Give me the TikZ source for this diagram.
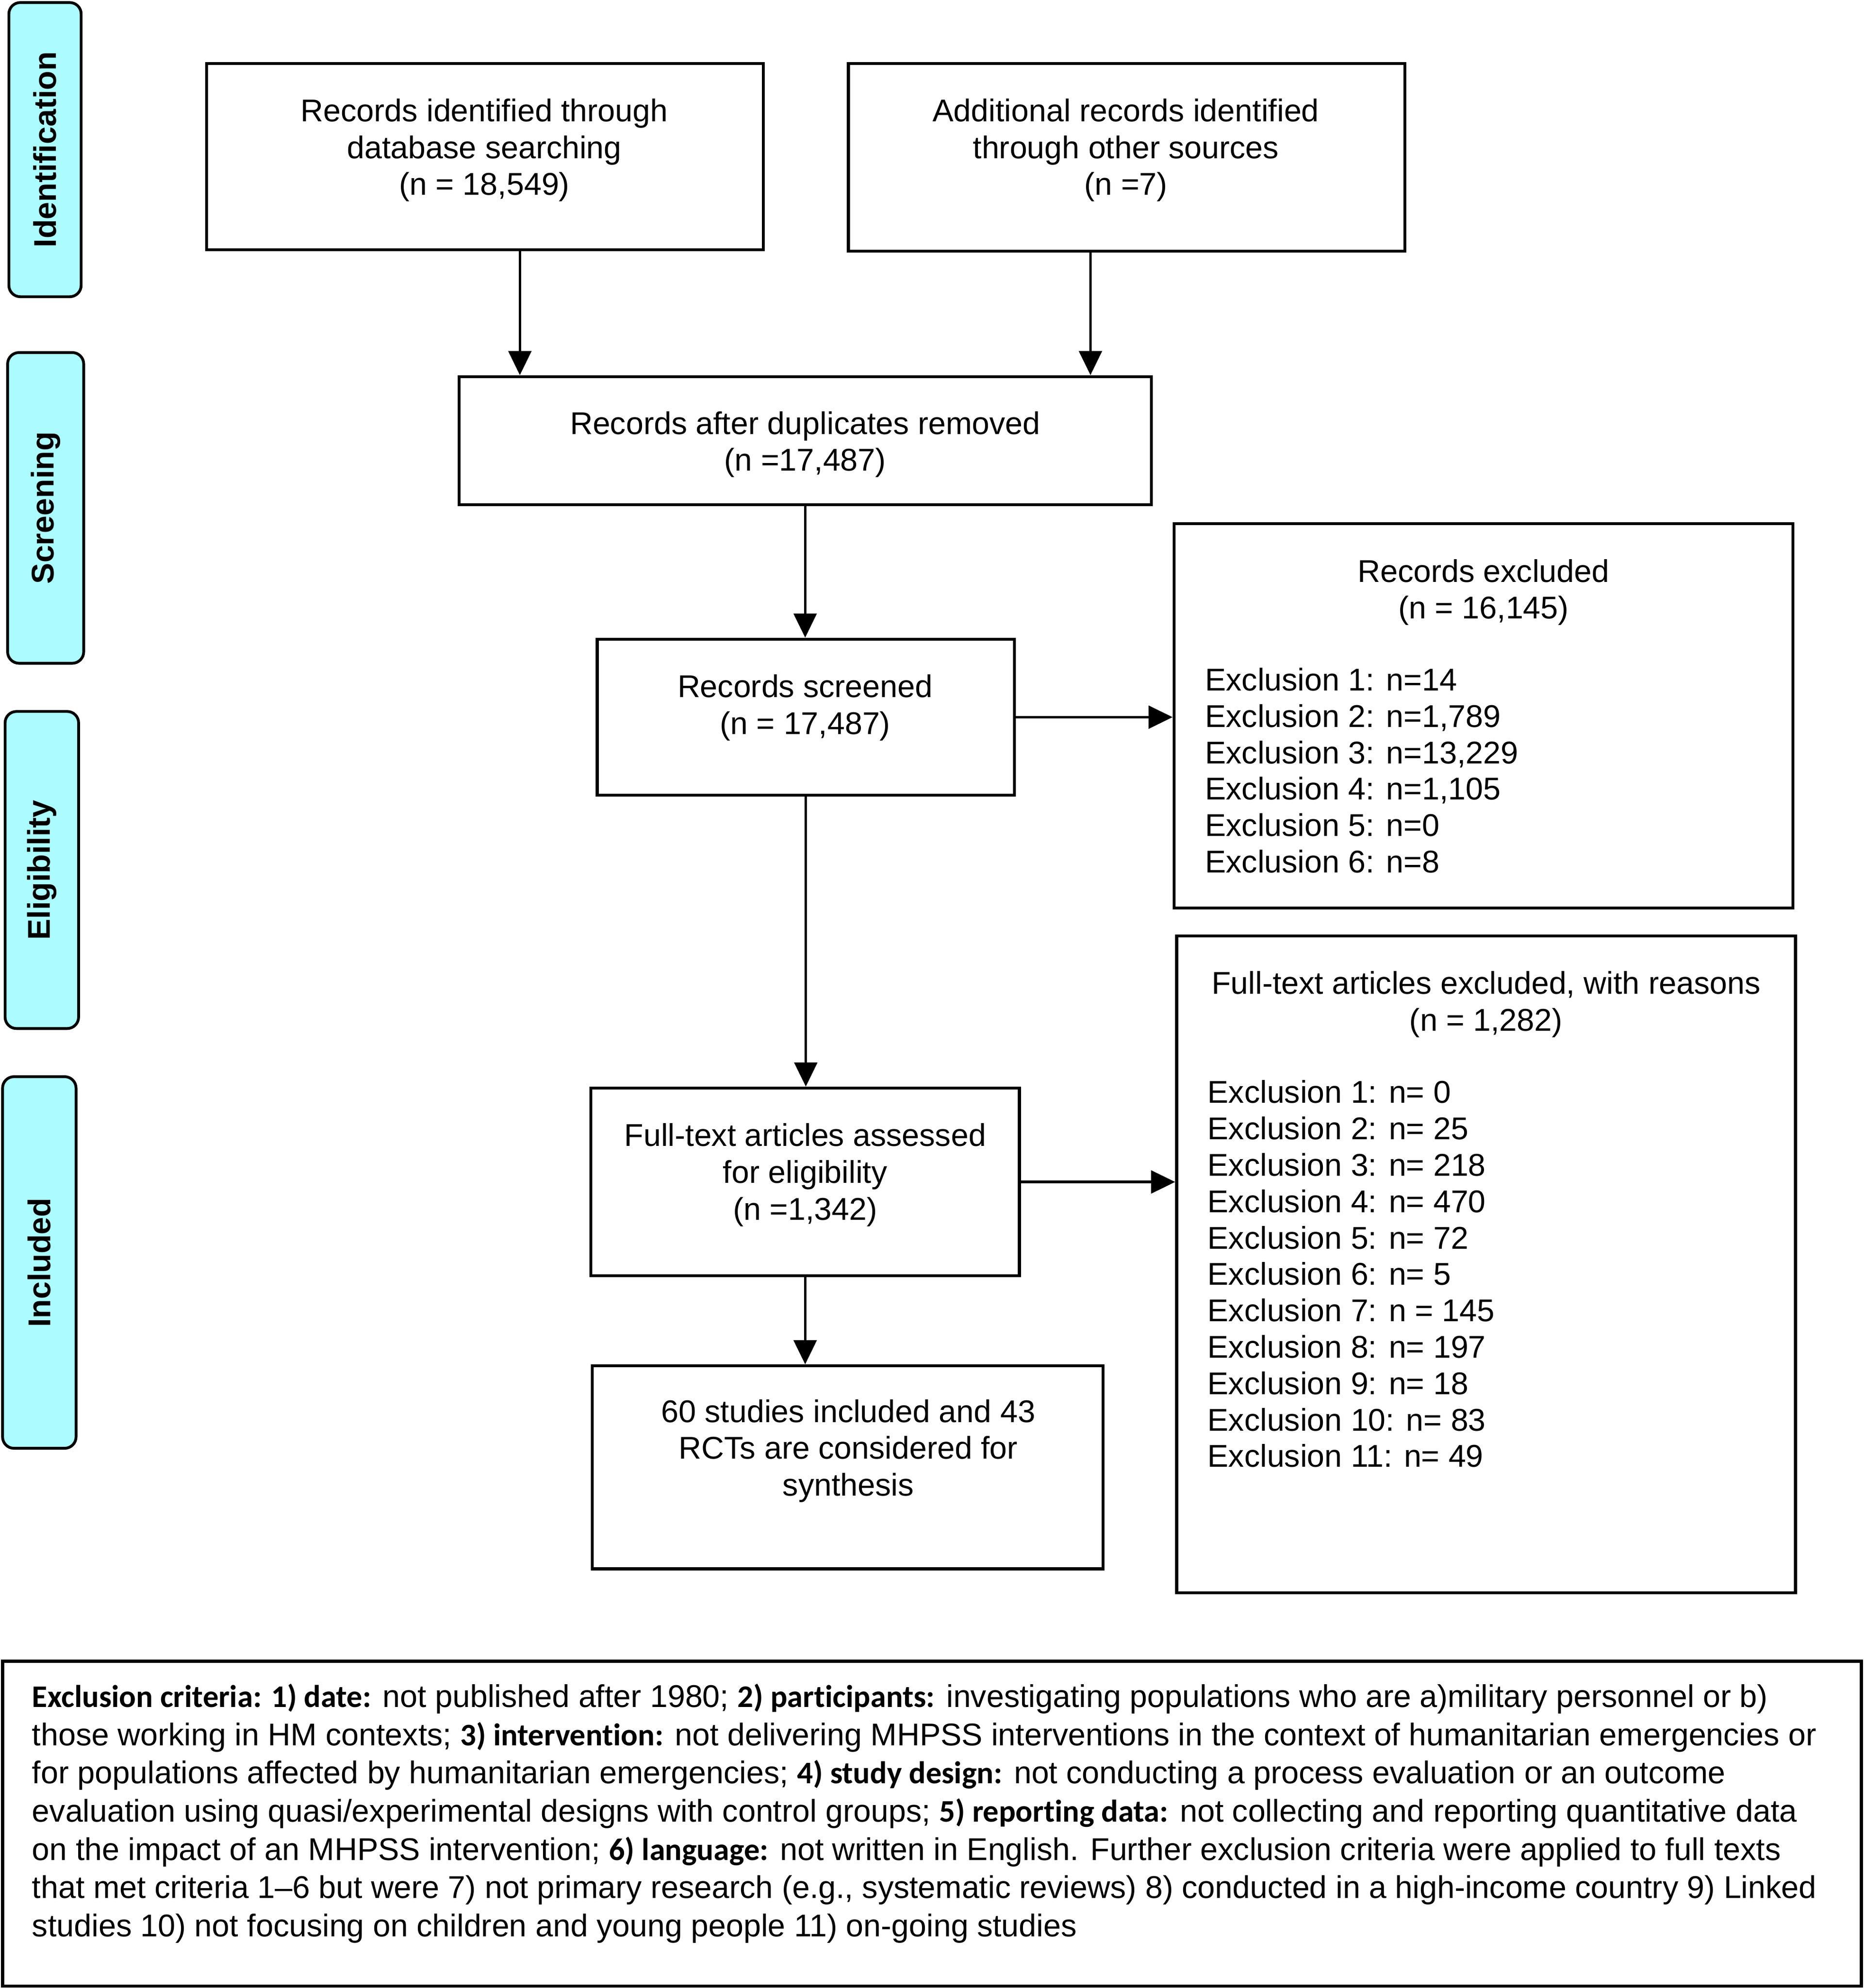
\documentclass[tikz,border=0pt]{standalone}
\usepackage{fontspec}
\setmainfont{Liberation Sans}
\newfontfamily\cbfont{Carlito}[Ligatures=NoCommon]
\usetikzlibrary{arrows.meta}
\definecolor{stagecyan}{RGB}{171,251,255}
\newcommand{\crit}[1]{{\cbfont\bfseries #1}}
\begin{document}
\begin{tikzpicture}[x=0.5pt,y=-0.5pt,
  box/.style={draw, line width=1.2pt, inner sep=0pt},
  stage/.style={draw, line width=1.1pt, rounded corners=4.5pt, fill=stagecyan, inner sep=0pt,
    font=\fontsize{12.4}{14.4}\selectfont\bfseries},
  txt/.style={inner sep=0pt, align=center, font=\fontsize{12.4}{14.5}\selectfont},
  lst/.style={inner sep=0pt, align=left, anchor=west, font=\fontsize{12.4}{14.35}\selectfont},
  arr/.style={line width=1pt, -{Triangle[length=9.5pt,width=9pt]}}
]
\useasboundingbox (0,0) rectangle (1470,1567.6);

% stage labels
\node[stage, minimum width=28.5pt, minimum height=116pt] (S1) at (35.5,118) {\rotatebox{90}{Identification}};
\node[stage, minimum width=30pt, minimum height=122.5pt] (S2) at (36,400.5) {\rotatebox{90}{Screening}};
\node[stage, minimum width=29pt, minimum height=125pt] (S3) at (33,686) {\rotatebox{90}{Eligibility}};
\node[stage, minimum width=29pt, minimum height=146.5pt] (S4) at (31,995.5) {\rotatebox{90}{Included}};

% boxes
\node[box, minimum width=219.5pt, minimum height=73.5pt] (A) at (382.5,123.5) {};
\node[box, minimum width=219.5pt, minimum height=74pt] (B) at (888.5,124) {};
\node[box, minimum width=273pt, minimum height=50.5pt] (C) at (635,347.5) {};
\node[box, minimum width=164.5pt, minimum height=61.5pt] (D) at (635.5,565.5) {};
\node[box, minimum width=244pt, minimum height=151.5pt] (E) at (1170,564.5) {};
\node[box, minimum width=169pt, minimum height=74pt] (F) at (635,932) {};
\node[box, minimum width=244pt, minimum height=259pt] (G) at (1172,997) {};
\node[box, minimum width=201.5pt, minimum height=80pt] (H) at (668.5,1157) {};
\node[box, minimum width=733pt, minimum height=128pt] (N) at (735,1438) {};

% texts
\node[txt] (At) at (382,118.5) {Records identified through\\database searching\\(n = 18,549)};
\node[txt] (Bt) at (888,118.5) {Additional records identified\\through other sources\\(n =7)};
\node[txt] (Ct) at (635,350.5) {Records after duplicates removed\\(n =17,487)};
\node[txt] (Dt) at (635,558) {Records screened\\(n = 17,487)};
\node[txt] (Et) at (1170,467) {Records excluded\\(n = 16,145)};
\node[lst] (El) at (950,607.5) {Exclusion 1: n=14\\Exclusion 2: n=1,789\\Exclusion 3: n=13,229\\Exclusion 4: n=1,105\\Exclusion 5: n=0\\Exclusion 6: n=8};
\node[txt] (Ft) at (635,926.5) {Full-text articles assessed\\for eligibility\\(n =1,342)};
\node[txt] (Gt) at (1172,792) {Full-text articles excluded, with reasons\\(n = 1,282)};
\node[lst] (Gl) at (952,1004.5) {Exclusion 1: n= 0\\Exclusion 2: n= 25\\Exclusion 3: n= 218\\Exclusion 4: n= 470\\Exclusion 5: n= 72\\Exclusion 6: n= 5\\Exclusion 7: n = 145\\Exclusion 8: n= 197\\Exclusion 9: n= 18\\Exclusion 10: n= 83\\Exclusion 11: n= 49};
\node[txt] (Ht) at (669,1144) {60 studies included and 43\\RCTs are considered for\\synthesis};
\node[inner sep=0pt, align=left, anchor=west, font=\fontsize{12.4}{15.08}\selectfont] (Nt) at (25,1430) {%
\crit{Exclusion criteria: 1) date:} not published after 1980; \crit{2) participants:} investigating populations who are a)military personnel or b)\\
those working in HM contexts; \crit{3) intervention:} not delivering MHPSS interventions in the context of humanitarian emergencies or\\
for populations affected by humanitarian emergencies; \crit{4) study design:} not conducting a process evaluation or an outcome\\
evaluation using quasi/experimental designs with control groups; \crit{5) reporting data:} not collecting and reporting quantitative data\\
on the impact of an MHPSS intervention; \crit{6) language:} not written in English. Further exclusion criteria were applied to full texts\\
that met criteria 1–6 but were 7) not primary research (e.g., systematic reviews) 8) conducted in a high-income country 9) Linked\\
studies 10) not focusing on children and young people 11) on-going studies};

% connectors
\coordinate (xa) at (410,0);
\coordinate (xb) at (860,0);
\draw[arr] (xa |- A.south) -- (xa |- C.north);
\draw[arr] (xb |- B.south) -- (xb |- C.north);
\draw[arr] (C.south) -- (C.south |- D.north);
\draw[arr] (D.east) -- (D.east -| E.west);
\draw[arr] (D.south) -- (D.south |- F.north);
\draw[arr] (F.east) -- (F.east -| G.west);
\draw[arr] (F.south) -- (F.south |- H.north);
\end{tikzpicture}
\end{document}
